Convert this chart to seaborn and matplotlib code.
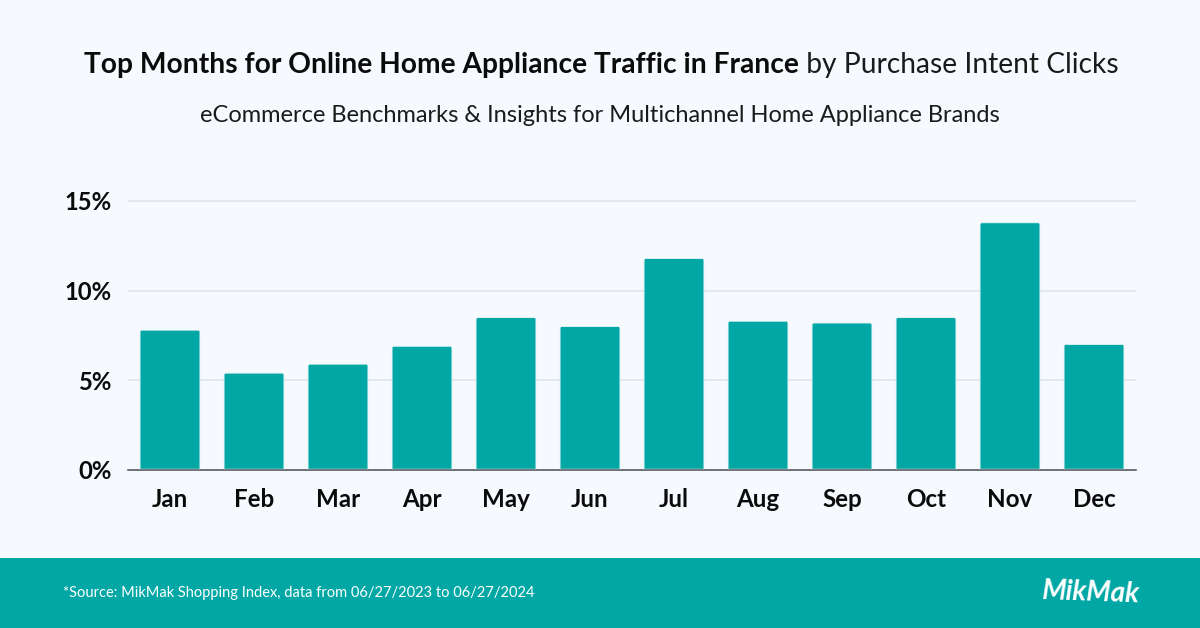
import matplotlib
matplotlib.use("Agg")
import matplotlib.pyplot as plt
from matplotlib.patches import FancyBboxPatch, Rectangle
from matplotlib.ticker import FuncFormatter
import seaborn as sns
import pandas as pd

months = ["Jan", "Feb", "Mar", "Apr", "May", "Jun", "Jul", "Aug", "Sep", "Oct", "Nov", "Dec"]
shares = [7.8, 5.4, 5.9, 6.9, 8.5, 8.0, 11.8, 8.3, 8.2, 8.5, 13.8, 7.0]
y_ticks = [0, 5, 10, 15]

title_bold = "Top Months for Online Home Appliance Traffic in France"
title_rest = " by Purchase Intent Clicks"
subtitle = "eCommerce Benchmarks & Insights for Multichannel Home Appliance Brands"
source = "*Source: MikMak Shopping Index, data from 06/27/2023 to 06/27/2024"

bg = "#f6fafe"
teal = "#00a7a4"

sns.set_theme(style="white")
plt.rcParams["font.family"] = ["Lato", "DejaVu Sans"]

W, H = 1200, 628
fig = plt.figure(figsize=(W / 100, H / 100), dpi=100, facecolor=bg)
ax = fig.add_axes([128 / W, 1 - 469.5 / H, 1008 / W, 268.5 / H], facecolor=bg)

df = pd.DataFrame({"month": months, "share": shares})
sns.barplot(data=df, x="month", y="share", color=teal, saturation=1, width=0.72, ax=ax, zorder=3)

ax.set_ylim(0, 15)
ax.set_xlim(-0.5, 11.5)
ax.set_yticks(y_ticks)
ax.yaxis.set_major_formatter(FuncFormatter(lambda v, _: f"{v:.0f}%"))
ax.set_xlabel("")
ax.set_ylabel("")
ax.grid(axis="y", color="#dde3e8", linewidth=1.1, zorder=0)
ax.grid(axis="x", visible=False)
ax.set_axisbelow(True)
for line in ax.get_ygridlines():
    line.set_clip_on(False)
sns.despine(ax=ax, left=True, top=True, right=True)
ax.spines["bottom"].set_color("#4d5358")
ax.spines["bottom"].set_linewidth(1.1)
ax.spines["bottom"].set_zorder(5)
ax.tick_params(axis="x", length=0, pad=13, labelsize=17.4, labelcolor="#0b0b0b")
ax.tick_params(axis="y", length=0, pad=12, labelsize=17.2, labelcolor="#0b0b0b")
for lab in ax.get_xticklabels() + ax.get_yticklabels():
    lab.set_fontweight("bold")

# round the top corners of the bars
fig.canvas.draw()
for bar in ax.patches:
    bar.set_snap(False)
    x0, y0 = ax.transData.transform((bar.get_x(), 0))
    x1, y1 = ax.transData.transform((bar.get_x() + bar.get_width(), bar.get_height()))
    clip = FancyBboxPatch((x0, y0 - 10), x1 - x0, y1 - y0 + 10,
                          boxstyle="round,pad=0,rounding_size=4", transform=None)
    bar.set_clip_path(clip)

# bottom band
fig.add_artist(Rectangle((0, 0), 1, 70 / H, transform=fig.transFigure, color=teal, lw=0))

# title, bold part then regular part
renderer = fig.canvas.get_renderer()
t1 = fig.text(84 / W, 1 - 65 / H, title_bold, fontsize=20.25, fontweight="bold", color="#0b0b0b", va="center")
x_next = t1.get_window_extent(renderer).x1
fig.text(x_next / W, 1 - 65 / H, title_rest, fontsize=20.25, color="#1a1a1a", va="center")

fig.text(600 / W, 1 - 115.5 / H, subtitle, fontsize=17.0, color="#1a1a1a", ha="center", va="center")
fig.text(63 / W, 1 - 592.5 / H, source, fontsize=10.53, color="white", va="center")
fig.text(1091 / W, 1 - 593 / H, "MikMak", fontsize=20, color="white", fontweight="bold",
         style="italic", rotation=-2, ha="center", va="center")

fig.savefig("out.png", dpi=100, facecolor=bg)
